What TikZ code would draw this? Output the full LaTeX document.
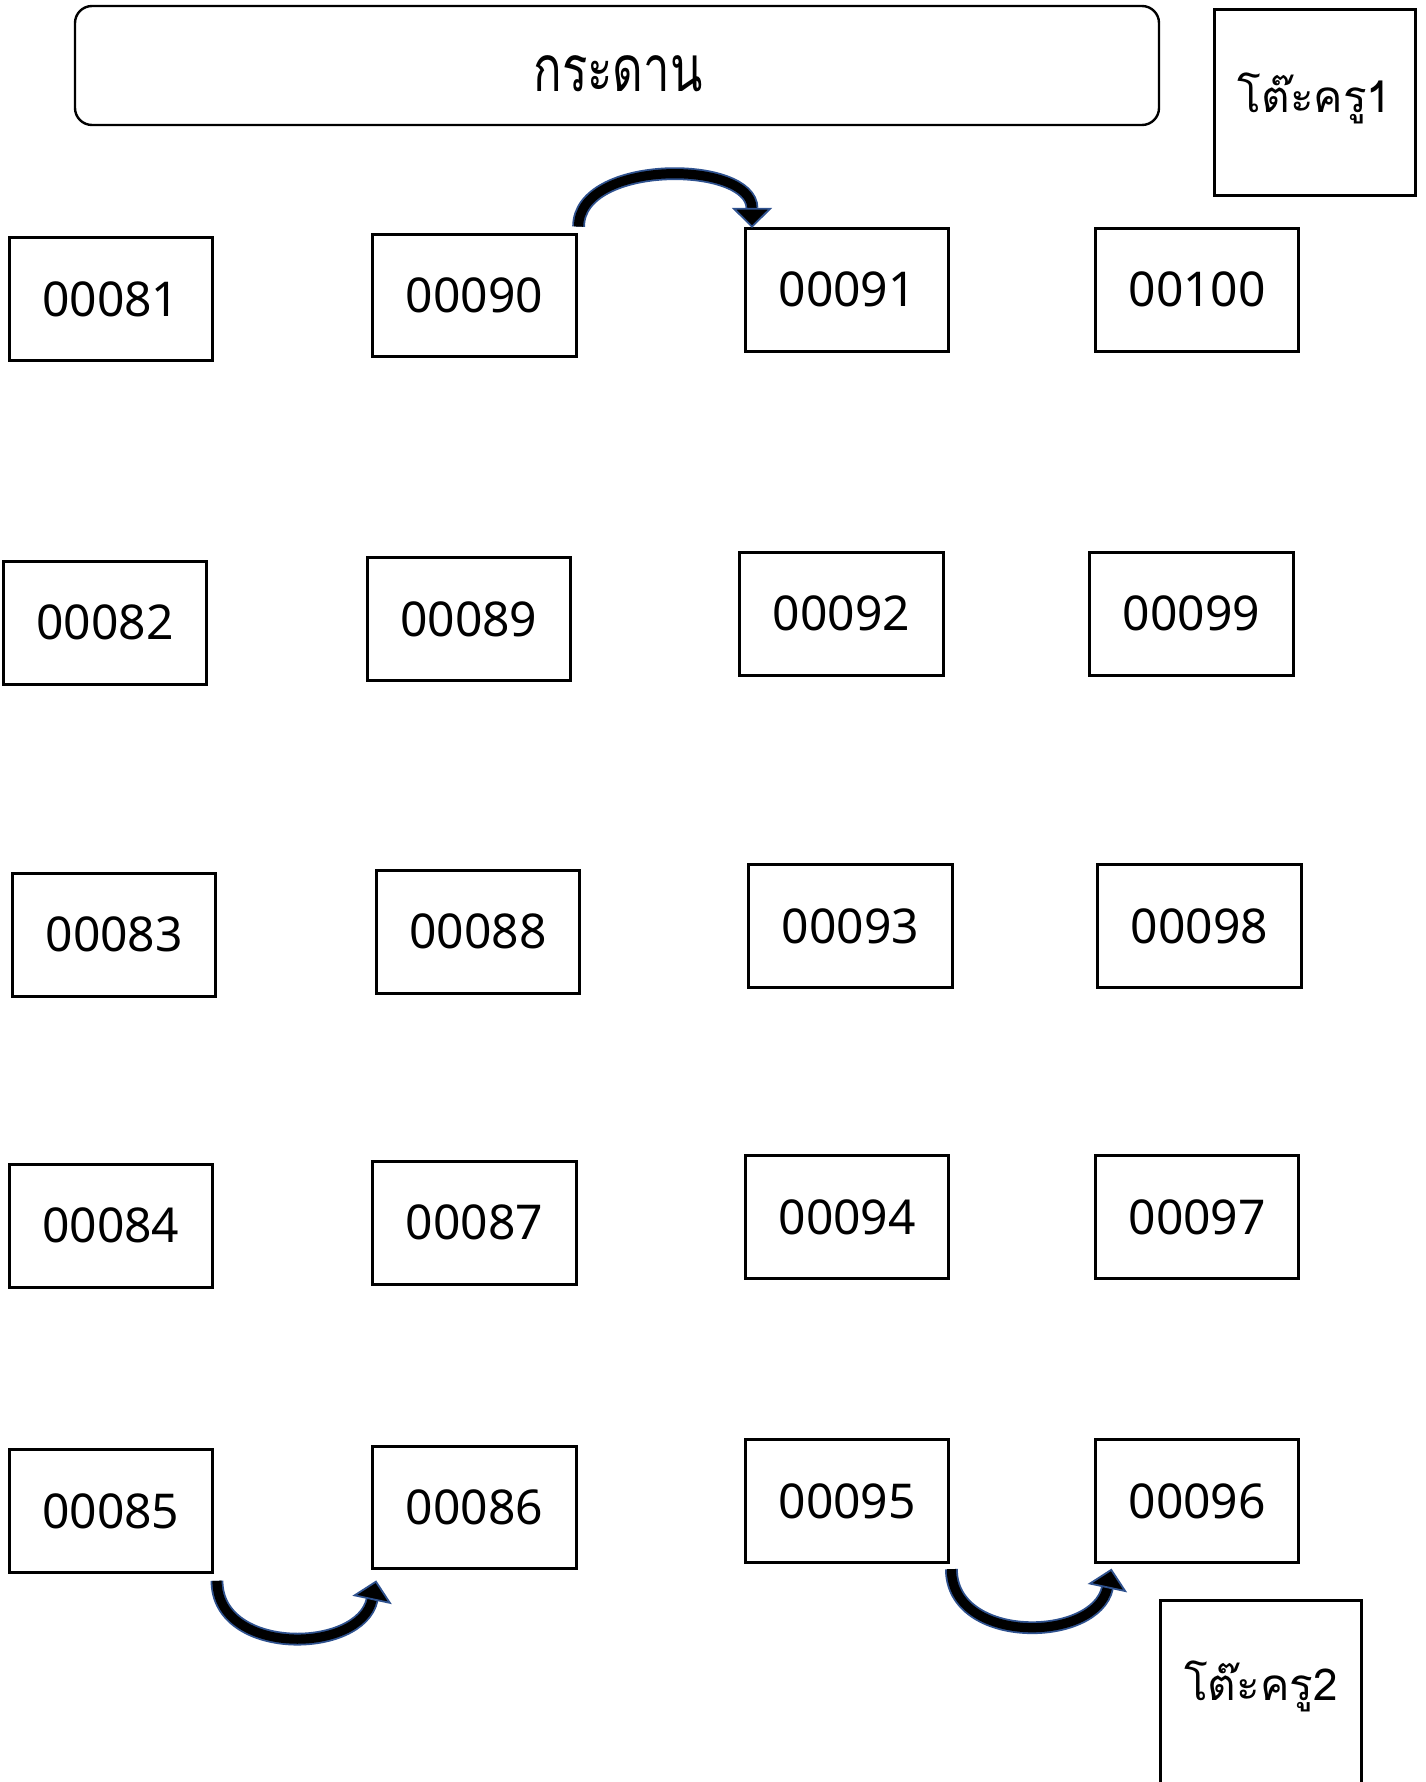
\documentclass[tikz,border=0pt]{standalone}
\usepackage{fontspec}
\setmainfont{Noto Sans}
\newfontfamily\thaifont[Script=Thai]{Loma}
\usetikzlibrary{calc,arrows.meta}
\definecolor{arrowblue}{RGB}{47,82,143}
\tikzset{
	seat/.style={draw, line width=1.5pt, minimum width=101.7pt, minimum height=61.4pt, inner sep=0pt, font=\fontsize{24}{28}\selectfont},
	desk/.style={draw, line width=1.5pt, minimum width=100.5pt, minimum height=92.5pt, inner sep=0pt, font=\thaifont\fontsize{22}{26}\selectfont},
	swap/.style={draw=arrowblue, double=black, line width=0.9pt, double distance=4.6pt, -{Triangle[length=10pt, width=20pt, fill=black, color=arrowblue, line width=0.9pt]}}
}
\begin{document}
\begin{tikzpicture}[x=0.5pt,y=0.5pt,yscale=-1,xscale=1]
				\useasboundingbox (0,0) rectangle (1425,1782);
				\node [draw, line width=1.2pt, rounded corners=8.5pt, minimum width=542pt, minimum height=59.5pt, inner sep=0pt] (board) at (617,65.5) {};
				\node [font=\thaifont\fontsize{32}{36}\selectfont, inner sep=0pt] (boardtext) at (618,74) {\scalebox{0.74}[1]{กระดาน}};
				\node [desk] (desk1) at (1314.5,102.5) {\raisebox{2pt}[\height][\depth]{โต๊ะครู1}};
				\node [desk] (desk2) at (1261,1692.5) {\raisebox{3pt}[\height][\depth]{โต๊ะครู2}};
				\node [seat] (s81) at (110.8,298.9) {00081};
				\node [seat] (s90) at (474.4,295.5) {00090};
				\node [seat] (s91) at (847.2,289.8) {00091};
				\node [seat] (s100) at (1197.2,289.8) {00100};
				\node [seat] (s82) at (105.1,622.7) {00082};
				\node [seat] (s89) at (468.8,619.3) {00089};
				\node [seat] (s92) at (841.5,613.7) {00092};
				\node [seat] (s99) at (1191.5,613.7) {00099};
				\node [seat] (s83) at (114.2,934.7) {00083};
				\node [seat] (s88) at (477.9,931.8) {00088};
				\node [seat] (s93) at (850.6,926.2) {00093};
				\node [seat] (s98) at (1199.5,926.2) {00098};
				\node [seat] (s84) at (110.8,1225.6) {00084};
				\node [seat] (s87) at (474.4,1222.8) {00087};
				\node [seat] (s94) at (847.2,1217.1) {00094};
				\node [seat] (s97) at (1197.2,1217.1) {00097};
				\node [seat] (s85) at (110.8,1510.9) {00085};
				\node [seat] (s86) at (474.4,1507.5) {00086};
				\node [seat] (s95) at (847.2,1501.2) {00095};
				\node [seat] (s96) at (1197.2,1501.2) {00096};
				\draw [swap] ($(s90.north east)+(1,-6)$) to [out=-90,in=-90] ($(s91.north west)+(8,1)$);
				\draw [swap] ($(s85.south east)+(3,7)$) to [out=90,in=102,looseness=1.21] ($(s86.south west)+(5,10)$);
				\draw [swap] ($(s95.south east)+(1,5)$) to [out=90,in=102,looseness=1.21] ($(s96.south west)+(17.5,4.5)$);
\end{tikzpicture}
\end{document}
